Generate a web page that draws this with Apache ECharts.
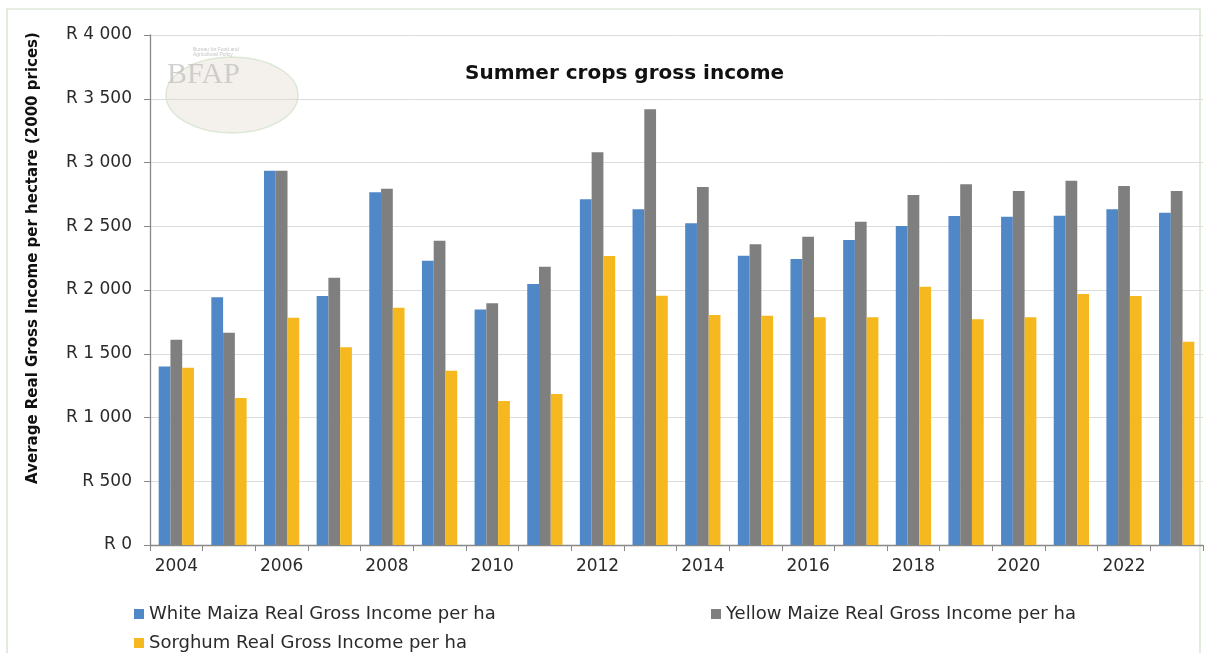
<!DOCTYPE html>
<html><head><meta charset="utf-8">
<script src="https://cdn.jsdelivr.net/npm/echarts@6/dist/echarts.min.js"></script>
<style>html,body{margin:0;padding:0;background:#fff}#c{width:1209px;height:653px}</style>
</head><body><div id="c"></div>
<script>
const years = ['2004','2005','2006','2007','2008','2009','2010','2011','2012','2013','2014','2015','2016','2017','2018','2019','2020','2021','2022','2023'];
const whiteMaize = [1400,1943,2936,1953,2766,2230,1848,2047,2711,2633,2523,2269,2243,2392,2502,2580,2575,2583,2633,2606];
const yellowMaize = [1610,1665,2936,2097,2795,2387,1896,2183,3080,3417,2808,2358,2418,2536,2745,2829,2776,2857,2816,2776];
const sorghum = [1390,1153,1783,1551,1861,1367,1130,1184,2267,1955,1804,1798,1786,1786,2026,1770,1786,1969,1953,1595];
const seriesNames = ['White Maiza Real Gross Income per ha','Yellow Maize Real Gross Income per ha','Sorghum Real Gross Income per ha'];
const yAxisTitle = 'Average Real Gross Income per hectare (2000 prices)';
const colors = ['#4f87c7','#7f7f7f','#f5b91f'];
const font = '"DejaVu Sans", sans-serif';
const chart = echarts.init(document.getElementById('c'));
function fmt(v){ const s = String(v); return 'R ' + (s.length>3 ? s.slice(0,s.length-3)+' '+s.slice(-3) : s); }
const legendCommon = {icon:'rect', itemWidth:10, itemHeight:10, itemGap:11, textStyle:{fontFamily:font, fontSize:18, color:'#2a2a2a'}};
chart.setOption({
  animation:false,
  color: colors,
  graphic:[
    {type:'rect', shape:{x:7,y:9,width:1193,height:660}, style:{fill:'none', stroke:'#cfe0c8', lineWidth:1.2}, silent:true},
    {type:'ellipse', shape:{cx:232,cy:95,rx:66,ry:38}, style:{fill:'rgba(230,225,215,0.45)', stroke:'rgba(200,220,190,0.6)', lineWidth:1.5}, silent:true, z:0},
    {type:'text', left:167, top:60, style:{text:'BFAP', font:'30px "Liberation Serif", serif', fill:'rgba(190,190,190,0.7)'}, silent:true, z:0},
    {type:'text', left:193, top:47, style:{text:'Bureau for Food and\nAgricultural Policy', font:'5px sans-serif', fill:'rgba(170,170,170,0.7)'}, silent:true, z:0},
    {type:'text', x:33, y:258, rotation:Math.PI/2, style:{text:yAxisTitle, font:'bold 15px "DejaVu Sans", sans-serif', fill:'#111', align:'center', verticalAlign:'middle'}, silent:true}
  ],
  title:{text:'Summer crops gross income', left:460, top:59, textStyle:{fontFamily:font, fontSize:20, fontWeight:'bold', color:'#111'}},
  legend:[
    Object.assign({data:[seriesNames[0]], left:129, top:600}, legendCommon),
    Object.assign({data:[seriesNames[1]], left:706, top:600}, legendCommon),
    Object.assign({data:[seriesNames[2]], left:129, top:629}, legendCommon)
  ],
  grid:{left:150, right:6, top:35, bottom:108, containLabel:false},
  xAxis:{type:'category', data:years,
    axisLine:{lineStyle:{color:'#888', width:1.3}},
    axisTick:{show:true, interval:0, length:6, lineStyle:{color:'#888'}},
    axisLabel:{interval:1, fontFamily:font, fontSize:17, color:'#2a2a2a', margin:13}
  },
  yAxis:{type:'value', min:0, max:4000, interval:500,
    axisLine:{show:true, lineStyle:{color:'#888', width:1.3}},
    axisTick:{show:true, length:6, lineStyle:{color:'#888'}},
    axisLabel:{formatter:fmt, fontFamily:font, fontSize:17, color:'#2a2a2a', margin:18},
    splitLine:{lineStyle:{color:'#dcdcdc', width:1}}
  },
  series:[
    {name:seriesNames[0], type:'bar', data:whiteMaize, barGap:'0%', barCategoryGap:'33%'},
    {name:seriesNames[1], type:'bar', data:yellowMaize, barGap:'0%', barCategoryGap:'33%'},
    {name:seriesNames[2], type:'bar', data:sorghum, barGap:'0%', barCategoryGap:'33%'}
  ]
});
</script></body></html>
